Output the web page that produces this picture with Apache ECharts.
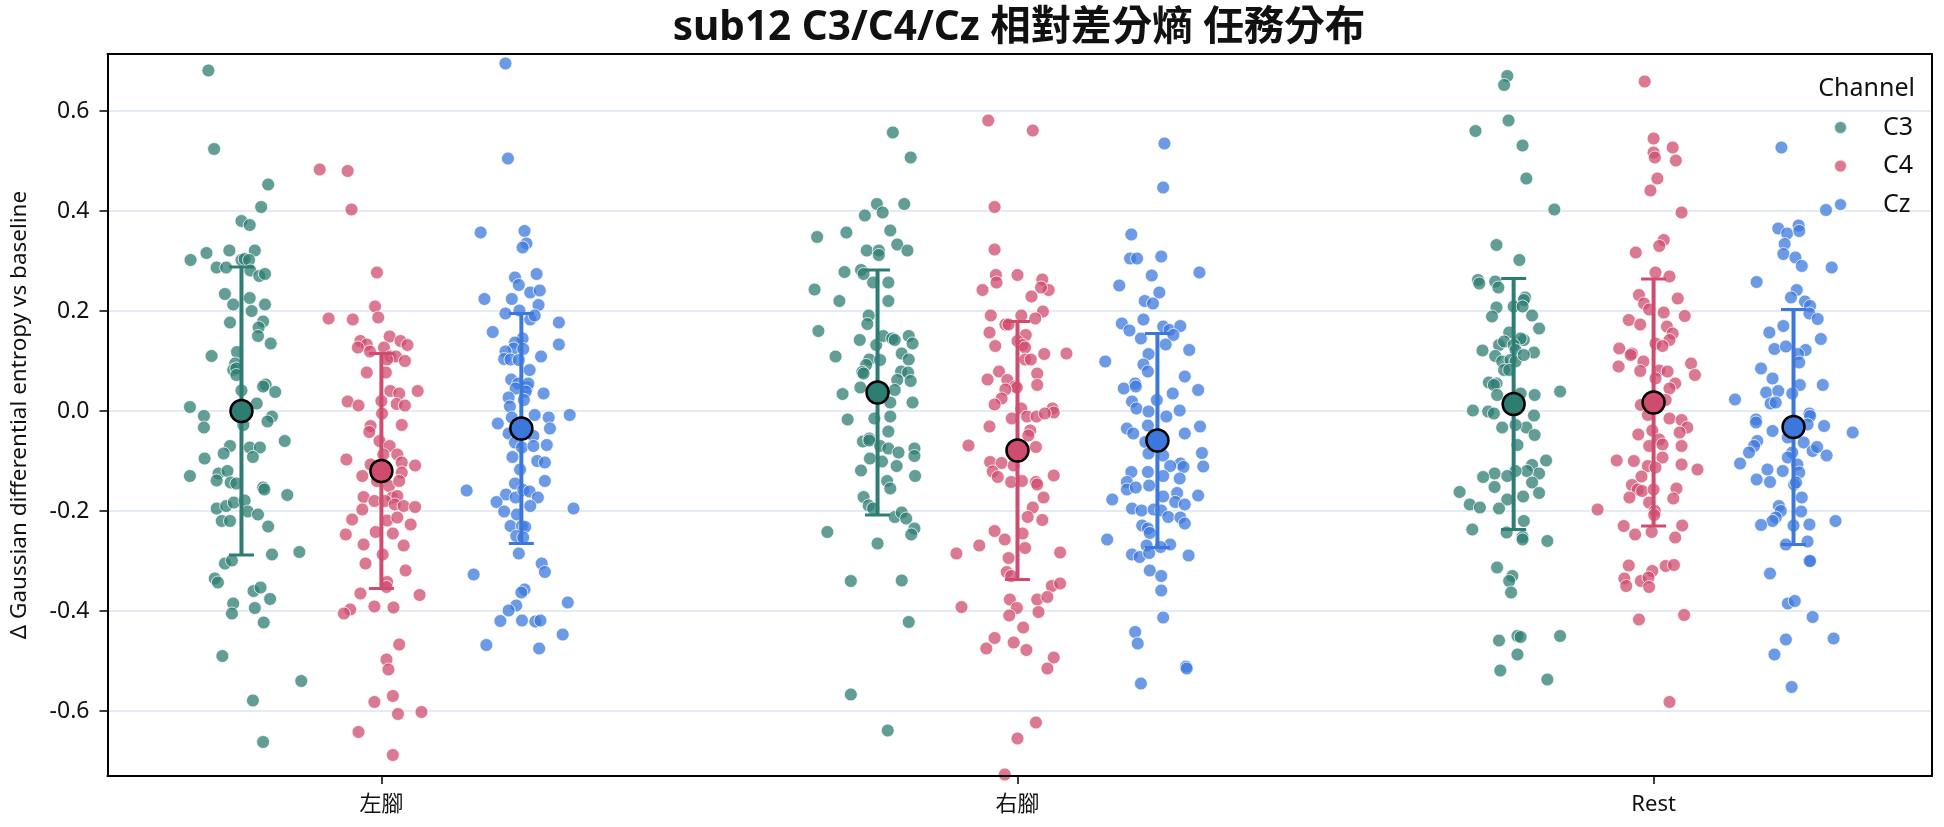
<!DOCTYPE html>
<html>
<head>
<meta charset="utf-8">
<title>sub12 C3/C4/Cz</title>
<script src="https://cdn.jsdelivr.net/npm/echarts@6/dist/echarts.min.js"></script>
<style>
  html, body { margin: 0; padding: 0; background: #fff; }
  #chart { width: 1944px; height: 827px; }
</style>
</head>
<body>
<div id="chart"></div>
<script>
// 任務分類 / 通道
var groups = ['左腳', '右腳', 'Rest'];
var channels = ['C3', 'C4', 'Cz'];
var yTicks = [-0.6, -0.4, -0.2, 0.0, 0.2, 0.4, 0.6];

// 每個點: [水平抖動, Δ entropy]
var c3Left = [[-0.052,0.681],[-0.043,0.524],[0.042,0.453],[0.031,0.408],[0,0.38],[0.013,0.372],[-0.08,0.302],[-0.055,0.316],[-0.019,0.321],[0.021,0.321],[0,0.302],[0.005,0.304],[0.012,0.302],[-0.039,0.287],[-0.024,0.287],[0.014,0.281],[0.028,0.27],[0.037,0.274],[-0.026,0.234],[0.013,0.226],[-0.013,0.213],[0.037,0.213],[0.016,0.2],[-0.018,0.177],[0.034,0.179],[0.027,0.167],[0.026,0.15],[0.046,0.135],[-0.047,0.11],[-0.007,0.118],[-0.01,0.095],[-0.013,0.082],[-0.008,0.085],[-0.008,0.072],[0.038,0.053],[0.034,0.049],[0.053,0.038],[0,0.041],[-0.081,0.008],[-0.059,-0.01],[0.024,0.015],[0.048,-0.011],[0.041,-0.021],[0.003,-0.028],
  [-0.059,-0.033],[0.068,-0.06],[-0.018,-0.07],[-0.028,-0.085],[0.013,-0.073],[0.029,-0.073],[0.018,-0.092],[-0.058,-0.095],[-0.081,-0.13],[-0.036,-0.125],[-0.039,-0.139],[-0.022,-0.12],[-0.017,-0.143],[-0.008,-0.145],[0.034,-0.153],[0.036,-0.157],[0.072,-0.168],[-0.039,-0.195],[-0.031,-0.22],[-0.018,-0.22],[-0.024,-0.19],[-0.012,-0.183],[0.005,-0.179],[0.01,-0.201],[0.026,-0.207],[0.042,-0.231],[0.048,-0.287],[0.091,-0.282],[-0.026,-0.305],[-0.015,-0.299],[-0.042,-0.335],[-0.037,-0.343],[0.019,-0.36],[0.03,-0.353],[0.045,-0.376],[-0.013,-0.385],[-0.015,-0.405],[0.021,-0.394],[0.035,-0.423],[-0.03,-0.49],[0.094,-0.54],[0.018,-0.579],[0.034,-0.662]];
var c4Left = [[-0.097,0.483],[-0.053,0.48],[-0.047,0.403],[-0.007,0.277],[-0.01,0.209],[-0.083,0.185],[-0.045,0.183],[-0.005,0.187],[-0.033,0.14],[-0.023,0.133],[-0.037,0.127],[-0.018,0.119],[0.013,0.149],[0.03,0.14],[0.041,0.132],[0.004,0.127],[0.014,0.109],[0.023,0.109],[0.009,0.103],[0.037,0.1],[-0.023,0.077],[0.007,0.077],[0.014,0.04],[0.028,0.035],[0.057,0.04],[-0.053,0.019],[-0.036,0.011],[0,0.02],[0.024,0.014],[0.037,0.011],[0.001,-0.005],[-0.017,-0.03],[0.032,-0.028],
  [-0.019,-0.042],[-0.003,-0.06],[0.013,-0.07],[0.025,-0.087],[0.003,-0.087],[-0.055,-0.097],[0.032,-0.103],[0.053,-0.109],[0.032,-0.123],[-0.017,-0.107],[-0.03,-0.13],[-0.007,-0.14],[0.012,-0.15],[0.028,-0.14],[-0.028,-0.172],[-0.011,-0.18],[0.017,-0.173],[0.025,-0.17],[0.006,-0.18],[-0.03,-0.197],[0.021,-0.187],[0.035,-0.19],[0.053,-0.192],[-0.046,-0.217],[0.009,-0.219],[0.025,-0.213],[0.046,-0.227],[-0.056,-0.247],[-0.009,-0.242],[0.018,-0.245],[-0.028,-0.267],[0.035,-0.269],[0.002,-0.287],[-0.025,-0.305],[0.038,-0.319],[0.009,-0.342],[0.008,-0.352],[-0.033,-0.365],[0.06,-0.368],[-0.049,-0.397],[-0.059,-0.405],[-0.011,-0.391],[0.019,-0.393],[0.028,-0.467],[0.008,-0.497],[0.011,-0.517],[-0.011,-0.582],[0.018,-0.57],[0.026,-0.606],[0.063,-0.602],[-0.036,-0.642],[0.018,-0.688]];
var czLeft = [[-0.025,0.695],[-0.021,0.505],[-0.064,0.357],[0.005,0.36],[0.008,0.335],[0.002,0.327],[0.024,0.274],[-0.01,0.267],[-0.004,0.252],[0.014,0.237],[0.029,0.241],[-0.058,0.224],[-0.015,0.224],[0.027,0.212],[-0.025,0.195],[-0.003,0.201],[0.014,0.183],[0.021,0.191],[0.059,0.177],[-0.045,0.158],[0.002,0.145],[-0.01,0.137],[-0.012,0.125],[0.003,0.124],[0.059,0.133],[-0.025,0.119],[-0.027,0.104],[-0.017,0.103],[-0.004,0.102],[0.031,0.109],[0.013,0.082],[-0.016,0.063],[-0.005,0.055],[-0.009,0.045],[0.009,0.047],[0.011,0.055],[0.007,0.039],[0.035,0.035],[-0.02,0.027],[0.004,0.022],[-0.018,0.009],[0.021,-0.008],[0.043,-0.013],[0.076,-0.008],[-0.037,-0.025],[-0.015,-0.013],
  [0.045,-0.035],[-0.02,-0.045],[0.019,-0.05],[0.04,-0.068],[-0.01,-0.063],[0.001,-0.073],[0.019,-0.07],[-0.014,-0.092],[0.025,-0.1],[0.037,-0.103],[-0.002,-0.117],[0.037,-0.14],[-0.01,-0.145],[-0.086,-0.159],[-0.024,-0.167],[-0.009,-0.173],[0.003,-0.158],[0.013,-0.161],[0.026,-0.173],[-0.039,-0.182],[-0.027,-0.201],[-0.007,-0.207],[0.014,-0.19],[0.082,-0.195],[-0.017,-0.23],[0.001,-0.23],[0.006,-0.232],[-0.008,-0.25],[0.003,-0.253],[-0.004,-0.285],[0.032,-0.305],[0.037,-0.322],[-0.075,-0.327],[0.005,-0.357],[0,-0.363],[0.073,-0.383],[-0.008,-0.389],[-0.02,-0.399],[-0.033,-0.42],[0.001,-0.419],[0.022,-0.421],[0.03,-0.419],[0.065,-0.447],[-0.055,-0.468],[0.028,-0.475]];

var c3Right = [[0.024,0.557],[0.052,0.507],[-0.001,0.414],[0.008,0.397],[0.042,0.414],[-0.02,0.391],[-0.095,0.348],[-0.049,0.357],[0.02,0.361],[0.031,0.333],[-0.017,0.321],[0.002,0.321],[0.002,0.312],[0.047,0.321],[-0.052,0.278],[-0.026,0.282],[-0.022,0.274],[-0.099,0.243],[-0.007,0.257],[0.017,0.257],[-0.06,0.22],[0.017,0.22],[-0.014,0.191],[-0.016,0.174],[-0.093,0.16],[-0.028,0.142],[-0.002,0.132],[0.009,0.15],[0.023,0.145],[0.027,0.142],[0.049,0.15],[0.055,0.135],[-0.066,0.109],[0.038,0.115],[0.049,0.103],[-0.013,0.103],[0.004,0.102],[-0.018,0.092],[-0.024,0.078],[-0.022,0.075],[0.037,0.079],[0.048,0.077],[0.031,0.062],[0.052,0.06],[-0.055,0.034],[-0.027,0.047],[0.027,0.042],[0.008,0.045],[0.055,0.017],[0.02,0.017],[-0.047,-0.017],[-0.005,-0.015],[0.02,-0.011],
  [0.017,-0.041],[-0.023,-0.061],[-0.013,-0.055],[-0.013,-0.059],[0.004,-0.07],[0.017,-0.075],[0.033,-0.083],[0.058,-0.075],[0.058,-0.09],[-0.012,-0.095],[0.007,-0.101],[-0.026,-0.119],[0.03,-0.11],[0.059,-0.13],[0.015,-0.14],[0.02,-0.155],[-0.022,-0.172],[-0.014,-0.189],[-0.007,-0.195],[0.027,-0.212],[0.038,-0.203],[0.045,-0.215],[-0.079,-0.242],[0.058,-0.235],[0.053,-0.247],[0,-0.265],[-0.042,-0.34],[0.038,-0.339],[0.049,-0.422],[-0.042,-0.567],[0.016,-0.639]];
var c4Right = [[-0.046,0.581],[0.024,0.561],[-0.036,0.408],[-0.036,0.323],[-0.034,0.272],[-0.033,0.257],[0,0.272],[0.039,0.263],[0.049,0.242],[0.037,0.247],[-0.055,0.242],[0.022,0.229],[0.04,0.199],[-0.042,0.191],[0.006,0.191],[0.028,0.185],[-0.019,0.173],[-0.014,0.173],[-0.044,0.157],[0.013,0.152],[0,0.14],[0.008,0.132],[0.012,0.127],[-0.035,0.13],[0.077,0.115],[0.042,0.114],[0.012,0.103],[0.021,0.103],[-0.029,0.079],[0.031,0.075],[-0.047,0.063],[-0.016,0.062],[-0.004,0.049],[-0.001,0.047],[0.031,0.052],[-0.019,0.043],[-0.025,0.025],[-0.036,0.013],[0.006,0.005],[0.055,0.005],[0.057,-0.003],[-0.009,-0.015],[0.015,-0.011],[0.03,-0.011],[0.043,-0.005],
  [-0.044,-0.031],[0.02,-0.039],[0.017,-0.049],[-0.077,-0.069],[0.029,-0.072],[-0.043,-0.102],[-0.025,-0.104],[-0.039,-0.121],[-0.031,-0.132],[-0.006,-0.109],[0.057,-0.129],[-0.01,-0.142],[0.007,-0.14],[0.029,-0.142],[0.031,-0.147],[0.041,-0.173],[0.024,-0.193],[0.016,-0.212],[0.039,-0.218],[-0.036,-0.24],[-0.02,-0.257],[0.008,-0.245],[-0.06,-0.269],[0.012,-0.274],[-0.096,-0.285],[0.067,-0.283],[-0.014,-0.294],[-0.017,-0.322],[-0.01,-0.33],[0.054,-0.35],[0.067,-0.345],[-0.088,-0.392],[-0.012,-0.377],[-0.001,-0.394],[-0.013,-0.409],[0.031,-0.377],[0.047,-0.372],[0.033,-0.402],[0.009,-0.433],[-0.036,-0.454],[-0.049,-0.475],[-0.006,-0.463],[0.014,-0.478],[0.057,-0.493],[0.047,-0.515],[0.029,-0.623],[0,-0.655],[-0.02,-0.727]];
var czRight = [[0.011,0.535],[0.009,0.447],[-0.041,0.353],[-0.043,0.305],[-0.032,0.305],[0.006,0.309],[0.066,0.277],[-0.009,0.271],[-0.06,0.251],[0.003,0.237],[-0.02,0.22],[-0.007,0.215],[-0.022,0.183],[-0.056,0.175],[-0.044,0.161],[0.009,0.169],[0.019,0.162],[0.036,0.17],[0.025,0.152],[-0.026,0.145],[0.013,0.133],[0.05,0.122],[-0.014,0.114],[-0.082,0.099],[-0.022,0.093],[-0.015,0.079],[0.043,0.069],[-0.053,0.045],[-0.035,0.055],[-0.034,0.049],[0.024,0.035],[0.064,0.042],[-0.04,0.019],[-0.001,0.022],[-0.033,0.005],[-0.014,-0.001],[0.035,0.001],[0.014,-0.011],
  [-0.048,-0.035],[-0.038,-0.045],[-0.015,-0.029],[0.067,-0.031],[0.043,-0.045],[-0.019,-0.062],[-0.014,-0.085],[0.009,-0.089],[0.07,-0.084],[0.036,-0.105],[0.02,-0.11],[0.041,-0.112],[0.072,-0.111],[-0.041,-0.122],[-0.015,-0.122],[0.009,-0.13],[0.035,-0.135],[-0.048,-0.142],[-0.048,-0.157],[-0.034,-0.153],[-0.013,-0.149],[0.031,-0.164],[0.009,-0.171],[-0.071,-0.177],[0.064,-0.169],[0.028,-0.182],[0.043,-0.187],[-0.04,-0.195],[-0.025,-0.199],[-0.006,-0.197],[0.006,-0.199],[0.017,-0.212],[0.036,-0.213],[0.043,-0.225],[-0.024,-0.229],[-0.015,-0.235],[-0.012,-0.244],[-0.079,-0.257],[0.02,-0.267],[0.005,-0.272],[-0.017,-0.269],[-0.04,-0.287],[-0.028,-0.292],[-0.013,-0.284],[0.049,-0.289],[-0.012,-0.319],[0.006,-0.33],[0.006,-0.359],[0.009,-0.413],[-0.035,-0.442],[-0.031,-0.465],[0.045,-0.511],[0.046,-0.515],[-0.026,-0.545]];

var c3Rest = [[-0.01,0.67],[-0.015,0.652],[-0.06,0.56],[-0.008,0.581],[0.014,0.531],[0.02,0.465],[0.064,0.403],[-0.027,0.332],[0.009,0.302],[-0.056,0.262],[-0.054,0.255],[-0.029,0.259],[-0.024,0.247],[0.018,0.227],[0.016,0.222],[-0.027,0.207],[0,0.209],[0.014,0.209],[-0.034,0.189],[0.029,0.191],[0.04,0.165],[-0.007,0.157],[0.016,0.142],[0.011,0.145],[-0.023,0.132],[-0.015,0.139],[0,0.132],[0.003,0.122],[-0.049,0.121],[0.032,0.117],[-0.029,0.11],[-0.018,0.099],[-0.005,0.102],[0.003,0.099],[0.016,0.112],[-0.015,0.082],[-0.007,0.082],[-0.039,0.057],[-0.027,0.055],[-0.031,0.052],[0.011,0.035],[0.033,0.032],[0.073,0.039],[-0.026,0.032],[-0.064,0.001],[-0.04,-0.001],[-0.031,-0.005],[0.032,-0.009],
  [-0.018,-0.033],[0.02,-0.033],[0.003,-0.028],[0.033,-0.048],[0.006,-0.068],[0.051,-0.099],[0.029,-0.108],[0.04,-0.125],[0.021,-0.12],[0.003,-0.12],[-0.03,-0.125],[-0.048,-0.132],[-0.01,-0.13],[-0.03,-0.152],[0.029,-0.143],[-0.085,-0.162],[0.04,-0.164],[0.015,-0.171],[-0.01,-0.177],[-0.069,-0.187],[-0.053,-0.193],[-0.023,-0.195],[0.016,-0.22],[-0.065,-0.237],[-0.011,-0.243],[0.014,-0.252],[0.014,-0.257],[0.053,-0.26],[-0.026,-0.313],[-0.002,-0.33],[-0.007,-0.34],[-0.004,-0.363],[-0.023,-0.459],[0.006,-0.45],[0.011,-0.452],[0.073,-0.45],[0.006,-0.487],[-0.021,-0.519],[0.053,-0.537]];
var c4Rest = [[-0.014,0.659],[0,0.545],[0.03,0.527],[0,0.517],[0.002,0.507],[0.035,0.501],[0.006,0.465],[-0.005,0.441],[0.044,0.397],[0.016,0.342],[0.009,0.33],[-0.028,0.317],[0.003,0.277],[0.025,0.269],[-0.023,0.232],[-0.015,0.215],[0.038,0.225],[-0.007,0.203],[0.016,0.197],[0.049,0.19],[-0.039,0.182],[-0.021,0.173],[0.021,0.169],[0.03,0.155],[0.025,0.142],[0.003,0.135],[0.014,0.13],[-0.054,0.125],[-0.034,0.115],[-0.036,0.112],[-0.016,0.099],[-0.021,0.08],[-0.055,0.089],[0.009,0.081],[0.022,0.079],[0.059,0.095],[0.065,0.072],[0.003,0.065],[0.034,0.055],[0.025,0.045],[-0.02,0.012],[0.019,0.022],[-0.009,-0.008],[0.025,-0.015],[0.044,-0.018],
  [0.053,-0.033],[0.041,-0.043],[-0.024,-0.047],[-0.002,-0.039],[0.009,-0.057],[0.014,-0.067],[-0.007,-0.07],[0.044,-0.07],[0.014,-0.093],[-0.058,-0.099],[-0.031,-0.1],[-0.009,-0.11],[0.003,-0.113],[0.044,-0.107],[0.069,-0.117],[-0.019,-0.131],[-0.034,-0.148],[-0.025,-0.157],[-0.018,-0.16],[0,-0.157],[0.036,-0.155],[-0.038,-0.173],[0.031,-0.175],[-0.007,-0.183],[-0.088,-0.197],[0.002,-0.2],[0.001,-0.208],[-0.047,-0.23],[0.045,-0.229],[-0.029,-0.247],[-0.003,-0.242],[0.034,-0.253],[-0.039,-0.309],[-0.002,-0.32],[0.019,-0.31],[0.032,-0.308],[-0.046,-0.335],[-0.043,-0.35],[-0.02,-0.34],[-0.008,-0.333],[-0.007,-0.352],[-0.023,-0.417],[0.048,-0.408],[0.025,-0.582]];
var czRest = [[-0.019,0.527],[0.051,0.402],[-0.024,0.365],[-0.01,0.355],[0.008,0.371],[0.009,0.36],[-0.014,0.334],[-0.016,0.314],[0.003,0.307],[0.013,0.29],[0.06,0.287],[-0.058,0.258],[0.005,0.242],[-0.004,0.227],[0.018,0.219],[0.026,0.21],[0.025,0.195],[0.038,0.184],[-0.016,0.17],[-0.038,0.157],[0.043,0.144],[-0.03,0.124],[-0.012,0.129],[0.019,0.122],[0.007,0.114],[0.009,0.097],[-0.051,0.085],[-0.033,0.065],[0.01,0.052],[0.046,0.052],[-0.043,0.037],[-0.024,0.04],[-0.002,0.035],[-0.092,0.023],[-0.036,0.015],[-0.028,0.017],[-0.059,-0.017],[0.025,-0.005],
  [0.026,-0.01],[0.022,-0.027],[0.048,-0.03],[-0.059,-0.023],[-0.033,-0.04],[0.093,-0.043],[-0.057,-0.06],[-0.062,-0.07],[-0.07,-0.083],[-0.009,-0.053],[0.016,-0.063],[0.03,-0.08],[0.037,-0.072],[0.052,-0.089],[-0.002,-0.083],[-0.084,-0.105],[-0.009,-0.093],[0.006,-0.107],[-0.041,-0.117],[-0.017,-0.12],[0.009,-0.123],[-0.058,-0.137],[-0.037,-0.142],[0.001,-0.147],[0.004,-0.143],[0.013,-0.173],[-0.023,-0.19],[-0.02,-0.2],[0.012,-0.201],[-0.028,-0.213],[-0.033,-0.22],[0.066,-0.22],[-0.051,-0.228],[0,-0.229],[0.025,-0.227],[0.022,-0.261],[-0.012,-0.267],[0.025,-0.3],[0.026,-0.3],[-0.037,-0.325],[-0.009,-0.385],[0.002,-0.38],[0.03,-0.412],[-0.012,-0.457],[0.063,-0.455],[-0.03,-0.487],[-0.003,-0.552]];

// 平均值 / 標準差 (左腳, 右腳, Rest)
var meanC3 = [0.000, 0.037, 0.014];
var meanC4 = [-0.120, -0.079, 0.017];
var meanCz = [-0.035, -0.059, -0.032];
var sdC3 = [0.288, 0.245, 0.251];
var sdC4 = [0.235, 0.258, 0.247];
var sdCz = [0.230, 0.214, 0.235];

var colors = ['#2e7d73', '#d04c6e', '#3c78dc'];
var dodge = [-0.22, 0, 0.22];
var font = '"Noto Sans", "Noto Sans CJK TC", sans-serif';

var points = [[c3Left, c3Right, c3Rest], [c4Left, c4Right, c4Rest], [czLeft, czRight, czRest]];
var means = [meanC3, meanC4, meanCz];
var sds = [sdC3, sdC4, sdCz];

var chart = echarts.init(document.getElementById('chart'), null, { renderer: 'canvas' });

var series = [];
// 散點
channels.forEach(function (ch, ci) {
  var data = [];
  points[ci].forEach(function (list, gi) {
    list.forEach(function (p) {
      data.push([gi + dodge[ci] + p[0], p[1]]);
    });
  });
  series.push({
    name: ch,
    type: 'scatter',
    data: data,
    symbolSize: 13,
    itemStyle: { color: colors[ci], opacity: 0.75, borderColor: '#fff', borderWidth: 1 },
    emphasis: { disabled: true },
    z: 2
  });
});
// 誤差線 + 平均點
channels.forEach(function (ch, ci) {
  var data = groups.map(function (g, gi) {
    return [gi + dodge[ci], means[ci][gi], sds[ci][gi]];
  });
  series.push({
    type: 'custom',
    data: data,
    z: 3,
    renderItem: function (params, api) {
      var x = api.value(0), m = api.value(1), s = api.value(2);
      var top = api.coord([x, m + s]);
      var bot = api.coord([x, m - s]);
      var cap = 12.5;
      var st = { stroke: colors[ci], lineWidth: 3 };
      return {
        type: 'group',
        children: [
          { type: 'line', shape: { x1: top[0], y1: top[1], x2: bot[0], y2: bot[1] }, style: { stroke: colors[ci], lineWidth: 4 } },
          { type: 'line', shape: { x1: top[0] - cap, y1: top[1], x2: top[0] + cap, y2: top[1] }, style: st },
          { type: 'line', shape: { x1: bot[0] - cap, y1: bot[1], x2: bot[0] + cap, y2: bot[1] }, style: st }
        ]
      };
    }
  });
  series.push({
    type: 'scatter',
    data: data.map(function (d) { return [d[0], d[1]]; }),
    symbolSize: 22,
    itemStyle: { color: colors[ci], opacity: 1, borderColor: '#000', borderWidth: 2.5 },
    emphasis: { disabled: true },
    z: 4
  });
});

var option = {
  animation: false,
  backgroundColor: '#fff',
  textStyle: { fontFamily: font },
  title: {
    text: 'sub12 C3/C4/Cz 相對差分熵 任務分布',
    left: 1019,
    textAlign: 'center',
    top: 8,
    padding: 0,
    textStyle: { fontFamily: font, fontSize: 40.5, fontWeight: 'bold', color: '#111' }
  },
  grid: { left: 107, right: 12, top: 54, bottom: 51, containLabel: false },
  legend: {
    data: channels,
    orient: 'vertical',
    left: 1833,
    top: 114,
    padding: 0,
    itemWidth: 13,
    itemHeight: 13,
    itemGap: 11.5,
    icon: 'circle',
    formatter: function (name) { return '{g|}{t|' + name + '}'; },
    textStyle: {
      fontFamily: font, fontSize: 25, color: '#111', lineHeight: 27,
      rich: {
        g: { width: 31 },
        t: { fontFamily: font, fontSize: 25, color: '#111', lineHeight: 27 }
      }
    }
  },
  graphic: [{
    type: 'text',
    style: { x: 1915, y: 89, text: 'Channel', textAlign: 'right', textVerticalAlign: 'middle', fontFamily: font, fontSize: 25, fill: '#111' }
  }],
  xAxis: [{
    type: 'value',
    min: -0.4306,
    max: 2.4377,
    splitNumber: 3,
    z: 10,
    axisLine: { onZero: false, lineStyle: { color: '#000', width: 2 } },
    axisTick: { customValues: [0, 1, 2], length: 8, lineStyle: { color: '#000', width: 1.5 } },
    axisLabel: {
      customValues: [0, 1, 2],
      margin: 18, fontSize: 22, color: '#111', fontFamily: font,
      formatter: function (v) { return groups[Math.round(v)] || ''; }
    },
    splitLine: { show: false }
  }, {
    type: 'value',
    position: 'top',
    min: -0.4306,
    max: 2.4377,
    z: 10,
    axisLine: { show: true, onZero: false, lineStyle: { color: '#000', width: 2 } },
    axisTick: { show: false },
    axisLabel: { show: false },
    splitLine: { show: false }
  }],
  yAxis: [{
    type: 'value',
    min: -0.73,
    max: 0.714,
    splitNumber: 7,
    name: 'Δ Gaussian differential entropy vs baseline',
    nameLocation: 'middle',
    nameGap: 77,
    nameTextStyle: { fontFamily: font, fontSize: 22.5, color: '#111' },
    axisLine: { show: true, onZero: false, lineStyle: { color: '#000', width: 2 } },
    axisTick: { customValues: yTicks, length: 8, lineStyle: { color: '#000', width: 1.5 } },
    axisLabel: {
      customValues: yTicks,
      margin: 18, fontSize: 23, color: '#111', fontFamily: font,
      formatter: function (v) { return v.toFixed(1); }
    },
    splitLine: { show: true, lineStyle: { color: '#dce5ee', width: 1.5 } }
  }, {
    type: 'value',
    position: 'right',
    min: -0.73,
    max: 0.714,
    z: 10,
    axisLine: { show: true, onZero: false, lineStyle: { color: '#000', width: 2 } },
    axisTick: { show: false },
    axisLabel: { show: false },
    splitLine: { show: false }
  }],
  series: series
};

chart.setOption(option);
</script>
</body>
</html>
